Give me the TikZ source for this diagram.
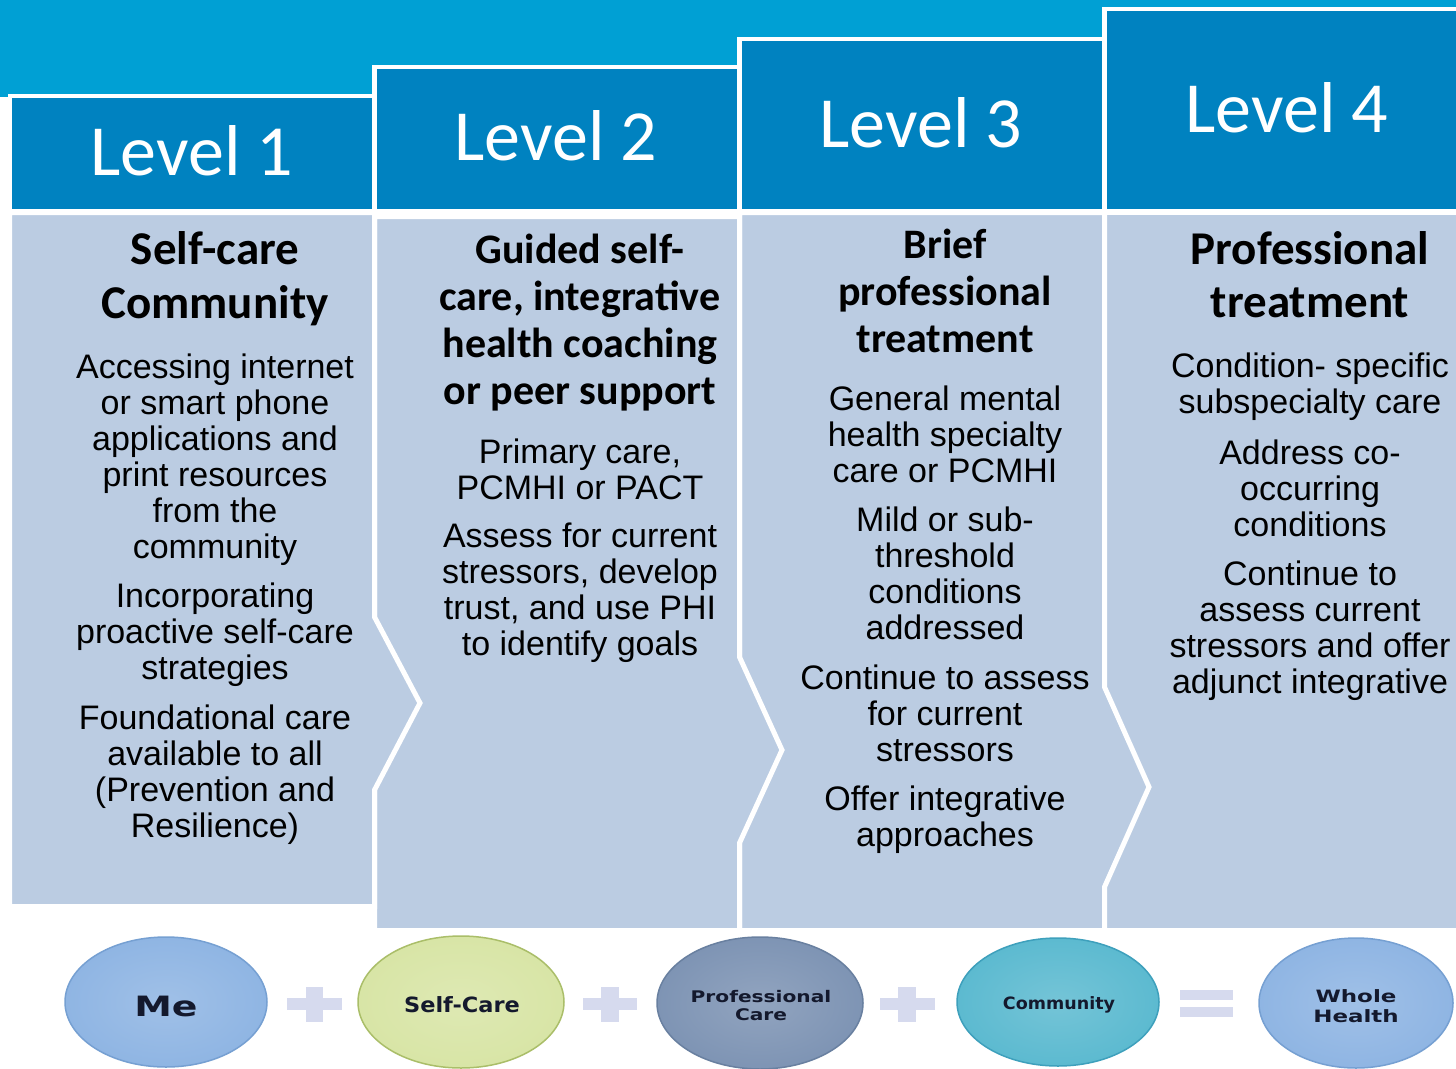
\documentclass[tikz,border=0pt]{standalone}
\usepackage{fontspec}
\usepackage{graphicx}
\setmainfont{Liberation Sans}
\newfontfamily\calibri{Carlito}
\newfontfamily\dejavu{DejaVu Sans}
\usetikzlibrary{shapes.geometric}
\definecolor{sky}{RGB}{0,160,212}
\definecolor{headblue}{RGB}{0,130,192}
\definecolor{bodyblue}{RGB}{187,204,226}
\definecolor{plusc}{RGB}{214,218,238}
\definecolor{meblue}{RGB}{143,181,227}
\definecolor{merim}{RGB}{118,160,210}
\definecolor{selfc}{RGB}{216,229,166}
\definecolor{selfrim}{RGB}{170,190,105}
\definecolor{profc}{RGB}{126,148,180}
\definecolor{profrim}{RGB}{105,128,160}
\definecolor{commc}{RGB}{92,186,208}
\definecolor{commrim}{RGB}{62,160,188}
\definecolor{elltext}{RGB}{20,25,45}
\newcommand\hstretch[2]{\scalebox{#1}[1]{#2}}
\tikzset{
  header/.style={fill=headblue, draw=white, line width=4.5pt},
  colbody/.style={fill=bodyblue, draw=white, line width=5pt},
  levellabel/.style={text=white, font=\calibri\fontsize{72}{80}\selectfont, anchor=base, inner sep=0pt},
  bigtitle/.style={font=\calibri\bfseries\fontsize{47}{54}\selectfont, align=center, inner sep=0pt},
  midtitle/.style={font=\calibri\bfseries\fontsize{42}{47}\selectfont, align=center, inner sep=0pt},
  para/.style={font=\fontsize{34}{36}\selectfont, align=center, inner sep=0pt},
  ell/.style={ellipse, inner sep=0pt, line width=1.5pt},
  elltxt/.style={inner sep=0pt, align=center, text=elltext},
  sign/.style={fill=plusc}
}
\begin{document}
\begin{tikzpicture}[x=1pt,y=-1pt]
\useasboundingbox (0,0) rectangle (1456,1068);
\fill[white] (0,0) rectangle (1456,1068);
\fill[sky] (0,0) rectangle (1456,97);
% headers
\path[header] (9.75,95.75) rectangle (374.5,211.25);
\path[header] (374.5,66.75) rectangle (739.5,211.25);
\path[header] (739.5,38.75) rectangle (1104.5,211.25);
\path[header] (1104.5,8.75) rectangle (1475,211.25);
\node[levellabel] (l1) at (192,175) {Level 1};
\node[levellabel] (l2) at (556,160) {Level 2};
\node[levellabel] (l3) at (921,147) {Level 3};
\node[levellabel] (l4) at (1287,132) {Level 4};
% bodies
\path[colbody] (1104.5,212.5) -- (1475,212.5) -- (1475,930.5) -- (1104.5,930.5) -- cycle;
\path[colbody] (739.5,212.5) -- (1104.5,212.5) -- (1104.5,687) -- (1149,787) -- (1104.5,887) -- (1104.5,930.5) -- (739.5,930.5) -- cycle;
\path[colbody] (374.5,216.5) -- (739.5,216.5) -- (739.5,657) -- (782,750) -- (739.5,843) -- (739.5,930.5) -- (374.5,930.5) -- cycle;
\path[colbody] (9.5,212.5) -- (374.5,212.5) -- (374.5,617) -- (420,703) -- (374.5,790) -- (374.5,906.5) -- (9.5,906.5) -- cycle;
% column 1
\node[bigtitle] (t1) at (215,279) {Self-care\\Community};
\node[para] (p11) at (215,460) {Accessing internet\\or smart phone\\applications and\\print resources\\from the\\community};
\node[para] (p12) at (215,635) {Incorporating\\proactive self-care\\strategies};
\node[para] (p13) at (215,775) {Foundational care\\available to all\\(Prevention and\\Resilience)};
% column 2
\node[midtitle] (t2) at (580,323) {Guided self-\\care, integrative\\health coaching\\or peer support};
\node[para] (p21) at (580,469) {Primary care,\\PCMHI or PACT};
\node[para] (p22) at (580,593) {Assess for current\\stressors, develop\\trust, and use PHI\\to identify goals};
% column 3
\node[midtitle] (t3) at (945,291) {Brief\\professional\\treatment};
\node[para] (p31) at (945,434) {General mental\\health specialty\\care or PCMHI};
\node[para] (p32) at (945,573) {Mild or sub-\\threshold\\conditions\\addressed};
\node[para] (p33) at (945,713) {Continue to assess\\for current\\stressors};
\node[para] (p34) at (945,820) {Offer integrative\\approaches};
% column 4
\node[font=\calibri\bfseries\fontsize{47}{53}\selectfont, align=center, inner sep=0pt] (t4) at (1310,275) {Professional\\treatment};
\node[para] (p41) at (1310,387) {Condition- specific\\subspecialty care};
\node[para] (p42) at (1310,488) {Address co-\\occurring\\conditions};
\node[para] (p43) at (1310,631) {Continue to\\assess current\\stressors and offer\\adjunct integrative};
% bottom row
\node[ell, minimum width=202pt, minimum height=130pt, inner color=meblue!85!white, outer color=meblue, draw=merim] (me) at (166,1002) {};
\node[ell, minimum width=206pt, minimum height=132pt, inner color=selfc!85!white, outer color=selfc, draw=selfrim] (self) at (461,1002) {};
\node[ell, minimum width=206pt, minimum height=132pt, inner color=profc!85!white, outer color=profc, draw=profrim] (prof) at (760,1003) {};
\node[ell, minimum width=202pt, minimum height=128pt, inner color=commc!85!white, outer color=commc, draw=commrim] (comm) at (1058,1002) {};
\node[ell, minimum width=194pt, minimum height=130pt, inner color=meblue!85!white, outer color=meblue, draw=merim] (whole) at (1356,1003) {};
\node[elltxt, font=\dejavu\bfseries\fontsize{28}{30}\selectfont] (metxt) at (166,1006) {\hstretch{1.35}{Me}};
\node[elltxt, font=\dejavu\bfseries\fontsize{21}{24}\selectfont] (selftxt) at (462,1005) {\hstretch{1.07}{Self-Care}};
\node[elltxt, font=\dejavu\bfseries\fontsize{16}{18}\selectfont] (proftxt) at (761,1006) {\hstretch{1.26}{Professional}\\\hstretch{1.26}{Care}};
\node[elltxt, font=\dejavu\bfseries\fontsize{17}{20}\selectfont] (commtxt) at (1059,1005) {\hstretch{1.03}{Community}};
\node[elltxt, font=\dejavu\bfseries\fontsize{17}{20}\selectfont] (wholetxt) at (1356,1006) {\hstretch{1.35}{Whole}\\\hstretch{1.35}{Health}};
% plus and equals signs
\fill[sign] (287,998) rectangle (342,1010);
\fill[sign] (306,987) rectangle (323,1022);
\fill[sign] (583,998) rectangle (637,1010);
\fill[sign] (601,987) rectangle (619,1022);
\fill[sign] (880,998) rectangle (935,1010);
\fill[sign] (898,987) rectangle (916,1022);
\fill[sign] (1180,990) rectangle (1233,1000);
\fill[sign] (1180,1007) rectangle (1233,1017);
\end{tikzpicture}
\end{document}
